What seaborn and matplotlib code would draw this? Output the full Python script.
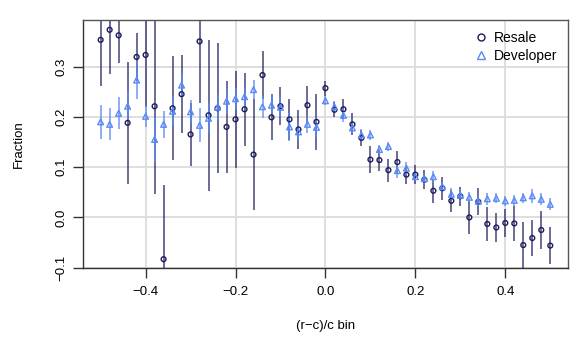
import numpy as np
import pandas as pd
import matplotlib
matplotlib.use("Agg")
import matplotlib.pyplot as plt
from matplotlib.lines import Line2D
import seaborn as sns

# (r-c)/c bins, centre values
bins = np.round(np.arange(-0.50, 0.501, 0.02), 2)

resale_frac = [0.353, 0.373, 0.362, 0.188, 0.319, 0.323, 0.221, -0.083,
               0.217, 0.245, 0.165, 0.350, 0.203, 0.217, 0.180, 0.195,
               0.215, 0.125, 0.283, 0.199, 0.221, 0.195, 0.175, 0.223,
               0.190, 0.257, 0.214, 0.215, 0.185, 0.158, 0.115, 0.114,
               0.094, 0.110, 0.085, 0.085, 0.075, 0.053, 0.058, 0.033,
               0.042, 0.000, 0.031, -0.013, -0.020, -0.011, -0.012, -0.055,
               -0.041, -0.025, -0.056]
resale_err = [0.091, 0.088, 0.055, 0.121, 0.048, 0.103, 0.175, 0.147,
              0.103, 0.077, 0.062, 0.122, 0.150, 0.129, 0.092, 0.096,
              0.073, 0.110, 0.048, 0.046, 0.038, 0.041, 0.039, 0.038,
              0.056, 0.015, 0.015, 0.020, 0.022, 0.016, 0.027, 0.021,
              0.023, 0.022, 0.018, 0.019, 0.019, 0.024, 0.023, 0.022,
              0.019, 0.032, 0.027, 0.033, 0.028, 0.028, 0.035, 0.045,
              0.035, 0.038, 0.036]

developer_frac = [0.190, 0.185, 0.207, 0.221, 0.273, 0.201, 0.155, 0.185,
                  0.211, 0.263, 0.210, 0.183, 0.197, 0.219, 0.231, 0.236,
                  0.240, 0.254, 0.220, 0.223, 0.219, 0.180, 0.170, 0.185,
                  0.179, 0.232, 0.220, 0.203, 0.178, 0.164, 0.164, 0.135,
                  0.141, 0.093, 0.098, 0.081, 0.077, 0.081, 0.061, 0.046,
                  0.044, 0.040, 0.032, 0.037, 0.038, 0.033, 0.034, 0.039,
                  0.043, 0.036, 0.026]
developer_err = [0.034, 0.032, 0.032, 0.030, 0.038, 0.022, 0.044, 0.027,
                 0.030, 0.025, 0.023, 0.034, 0.030, 0.025, 0.025, 0.022,
                 0.020, 0.019, 0.022, 0.020, 0.020, 0.028, 0.017, 0.017,
                 0.020, 0.009, 0.011, 0.013, 0.010, 0.011, 0.010, 0.008,
                 0.009, 0.015, 0.013, 0.008, 0.010, 0.012, 0.010, 0.012,
                 0.012, 0.010, 0.010, 0.012, 0.010, 0.010, 0.011, 0.010,
                 0.014, 0.012, 0.012]

x_ticks = [-0.4, -0.2, 0.0, 0.2, 0.4]
y_ticks = [-0.1, 0.0, 0.1, 0.2, 0.3]
x_tick_labels = ["\u22120.4", "\u22120.2", "0.0", "0.2", "0.4"]
y_tick_labels = ["\u22120.1", "0.0", "0.1", "0.2", "0.3"]

df = pd.DataFrame({
    "bin": np.concatenate([bins, bins]),
    "frac": resale_frac + developer_frac,
    "err": resale_err + developer_err,
    "type": ["Resale"] * len(bins) + ["Developer"] * len(bins),
})

sns.set_style("white")
plt.rcParams["font.family"] = ["Liberation Sans", "DejaVu Sans"]
plt.rcParams["text.color"] = "black"
plt.rcParams["axes.labelcolor"] = "black"
plt.rcParams["xtick.color"] = "black"
plt.rcParams["ytick.color"] = "black"

navy = "#1c1c5c"
light = "#5b8af5"

fig = plt.figure(figsize=(5.74, 3.43), dpi=100)
ax = fig.add_axes([0.144, 0.2195, 0.846, 0.7215])

ax.set_xlim(-0.54, 0.54)
ax.set_ylim(-0.1, 0.392)

for v in x_ticks:
    ax.axvline(v, color="#dcdcdc", lw=1.3, zorder=0)
for v in y_ticks:
    ax.axhline(v, color="#dcdcdc", lw=1.3, zorder=0)

res = df[df["type"] == "Resale"]
dev = df[df["type"] == "Developer"]
ax.errorbar(res["bin"], res["frac"], yerr=res["err"], fmt="none",
            ecolor=navy, elinewidth=1.3, alpha=0.7, zorder=2)
ax.errorbar(dev["bin"], dev["frac"], yerr=dev["err"], fmt="none",
            ecolor=light, elinewidth=1.3, alpha=0.75, zorder=2)

sns.scatterplot(data=df, x="bin", y="frac", style="type", hue="type",
                size="type",
                sizes={"Resale": 12, "Developer": 17},
                markers={"Resale": "o", "Developer": "^"},
                palette={"Resale": navy, "Developer": light},
                hue_order=["Resale", "Developer"],
                style_order=["Resale", "Developer"],
                linewidth=1.0, ax=ax, zorder=3, legend=False)
# open markers, outlined in the series colour
sc = ax.collections[-1]
sc.set_facecolor("none")
sc.set_edgecolor([navy if t == "Resale" else light for t in df["type"]])

handles = [
    Line2D([], [], marker="o", ls="none", mfc="none", mec=navy, ms=5, mew=1.0),
    Line2D([], [], marker="^", ls="none", mfc="none", mec=light, ms=6, mew=1.0),
]
ax.legend(handles, ["Resale", "Developer"], loc="upper right", frameon=False,
          fontsize=10, handletextpad=0.3, borderaxespad=0.4,
          labelspacing=0.25, handlelength=1.2)

ax.set_xticks(x_ticks)
ax.set_xticklabels(x_tick_labels, fontsize=9.5)
ax.set_yticks(y_ticks)
ax.set_yticklabels(y_tick_labels, fontsize=9.5, rotation=90, va="center")
ax.tick_params(axis="both", direction="out", length=7, width=1.0,
               color="#333333", bottom=True, left=True, pad=4)
ax.tick_params(axis="x", pad=6)
ax.set_xlabel("(r\u2212c)/c bin", fontsize=9.5, labelpad=16)
ax.set_ylabel("Fraction", fontsize=9.5, labelpad=22)

for name, sp in ax.spines.items():
    sp.set_visible(True)
    sp.set_linewidth(1.0)
    sp.set_color("#555555" if name in ("top", "right") else "#333333")

fig.savefig("out.png", dpi=100)
